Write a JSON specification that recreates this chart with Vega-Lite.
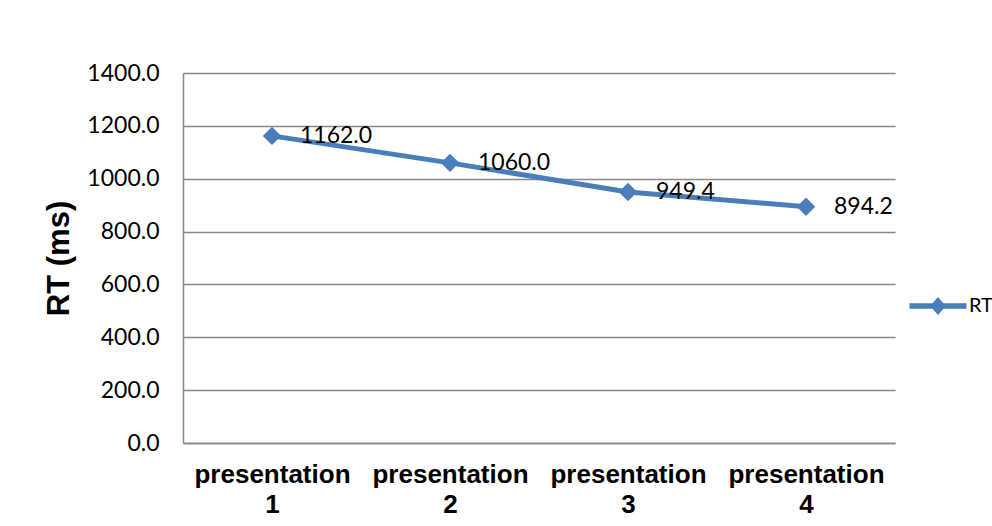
{
  "$schema": "https://vega.github.io/schema/vega-lite/v6.json",
  "autosize": {"type": "none"},
  "width": 712,
  "height": 370,
  "padding": {"left": 183, "top": 73, "right": 97, "bottom": 83},
  "background": "white",
  "config": {
    "view": {"stroke": null},
    "font": "Lato"
  },
  "data": {
    "values": [
      {"presentation": "presentation 1", "RT": 1162.0, "series": "RT"},
      {"presentation": "presentation 2", "RT": 1060.0, "series": "RT"},
      {"presentation": "presentation 3", "RT": 949.4, "series": "RT"},
      {"presentation": "presentation 4", "RT": 894.2, "series": "RT"}
    ]
  },
  "encoding": {
    "x": {
      "field": "presentation",
      "type": "nominal",
      "sort": null,
      "scale": {"paddingInner": 0, "paddingOuter": 0},
      "axis": {
        "title": null,
        "labelAngle": 0,
        "labelExpr": "split(datum.value, ' ')",
        "labelFont": "Liberation Sans",
        "labelFontWeight": "bold",
        "labelFontSize": 26,
        "labelLineHeight": 30,
        "labelColor": "black",
        "labelPadding": 18,
        "ticks": false,
        "domainColor": "#888888",
        "domainWidth": 1.5,
        "grid": false
      }
    },
    "y": {
      "field": "RT",
      "type": "quantitative",
      "scale": {"domain": [0, 1400], "nice": false, "zero": true},
      "axis": {
        "title": "RT (ms)",
        "titleFont": "Liberation Sans",
        "titleFontWeight": "bold",
        "titleFontSize": 31,
        "titleColor": "black",
        "titlePadding": 11,
        "values": [0, 200, 400, 600, 800, 1000, 1200, 1400],
        "format": ".1f",
        "labelFont": "Lato",
        "labelFontSize": 23,
        "labelColor": "black",
        "labelPadding": 24,
        "ticks": false,
        "domainColor": "#888888",
        "domainWidth": 1.5,
        "gridColor": "#888888",
        "gridWidth": 1.5
      }
    }
  },
  "layer": [
    {
      "mark": {"type": "line", "strokeWidth": 5, "color": "#4A7EBB"},
      "encoding": {
        "color": {
          "field": "series",
          "type": "nominal",
          "scale": {"range": ["#4A7EBB"]},
          "legend": {
            "title": null,
            "orient": "none",
            "legendX": 745,
            "legendY": 223,
            "symbolType": "M-3.17,-0.3L-0.6,-0.3L0,-1L0.6,-0.3L3.17,-0.3L3.17,0.3L0.6,0.3L0,1L-0.6,0.3L-3.17,0.3Z",
            "symbolSize": 324,
            "symbolStrokeWidth": 0,
            "symbolFillColor": "#4A7EBB",
            "labelFont": "Lato",
            "labelFontSize": 20,
            "labelColor": "black",
            "labelOffset": 21
          }
        }
      }
    },
    {
      "mark": {"type": "point", "shape": "diamond", "filled": true, "size": 340, "color": "#4A7EBB", "opacity": 1}
    },
    {
      "mark": {"type": "text", "align": "left", "baseline": "middle", "dx": 28, "font": "Lato", "fontSize": 23, "color": "black"},
      "encoding": {"text": {"field": "RT", "type": "quantitative", "format": ".1f"}}
    }
  ]
}
